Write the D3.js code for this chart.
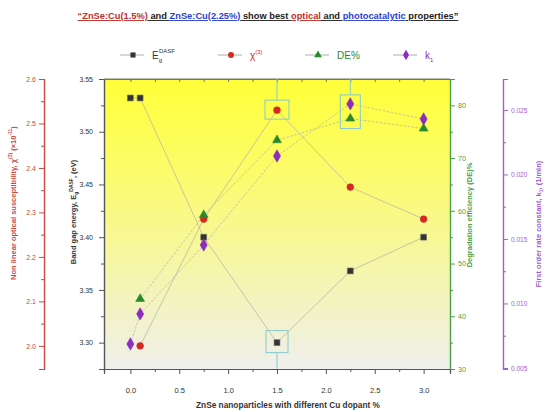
<!DOCTYPE html>
<html>
<head>
<meta charset="utf-8">
<script src="https://cdn.jsdelivr.net/npm/d3@7"></script>
<style>
  body { margin: 0; background: #fff; }
  svg { display: block; font-family: "Liberation Sans", Arial, sans-serif; }
</style>
</head>
<body>
<div id="chart"></div>
<script>
// dopant levels (Cu %) and the four measured series
const dopantAll = [0, 0.1, 0.75, 1.5, 2.25, 3.0];
const dopantDoped = [0.1, 0.75, 1.5, 2.25, 3.0];
const egValues = [3.532, 3.532, 3.40, 3.30, 3.368, 3.40];
const chiValues = [2.0, 2.285, 2.53, 2.357, 2.285];
const deValues = [43.3, 59.2, 73.4, 77.5, 75.6];
const kValues = [0.00686, 0.00919, 0.01453, 0.02143, 0.02547, 0.0243];

const xTicks = [0, 0.5, 1.0, 1.5, 2.0, 2.5, 3.0];
const egTicks = [3.30, 3.35, 3.40, 3.45, 3.50, 3.55];
const chiTicks = [2.0, 2.1, 2.2, 2.3, 2.4, 2.5, 2.6];
const deTicks = [30, 40, 50, 60, 70, 80];
const kTicks = [0.005, 0.010, 0.015, 0.020, 0.025];

const width = 545, height = 412;
const plot = { left: 104, right: 450, top: 79, bottom: 369 };

const cBlack = "#333", cRed = "#d42a22", cGreen = "#2a8a2a", cPurple = "#8e2cc0";
const aRed = "#c84a46", aGreen = "#4aa04a", aPurple = "#a060cc";

const svg = d3.select("#chart").append("svg")
  .attr("width", width).attr("height", height);

// gradient background of the plot
const grad = svg.append("defs").append("linearGradient")
  .attr("id", "bg").attr("x1", 0).attr("y1", 0).attr("x2", 0).attr("y2", 1);
grad.append("stop").attr("offset", "0%").attr("stop-color", "#ffff38");
grad.append("stop").attr("offset", "35%").attr("stop-color", "#fbfb70");
grad.append("stop").attr("offset", "100%").attr("stop-color", "#efefec");

svg.append("rect")
  .attr("x", plot.left).attr("y", plot.top)
  .attr("width", plot.right - plot.left).attr("height", plot.bottom - plot.top)
  .attr("fill", "url(#bg)");

// scales
const x = d3.scaleLinear().domain([-0.27, 3.27]).range([plot.left, plot.right]);
const yEg = d3.scaleLinear().domain([3.275, 3.55]).range([plot.bottom, plot.top]);
const yChi = d3.scaleLinear().domain([1.948, 2.6]).range([plot.bottom, plot.top]);
const yDe = d3.scaleLinear().domain([30, 85]).range([plot.bottom, plot.top]);
const yK = d3.scaleLinear().domain([0.00492, 0.0274]).range([plot.bottom, plot.top]);

// helper to style an axis group
const styleAxis = (g, color, fontSize) => {
  g.selectAll(".domain").attr("stroke", color).attr("stroke-width", 1.2);
  g.selectAll(".tick line").attr("stroke", color);
  g.selectAll(".tick text").attr("fill", color).attr("font-size", fontSize);
};

const minor = (ticks) => d3.range(ticks.length - 1).map(i => (ticks[i] + ticks[i + 1]) / 2);

// x axis (bottom) + top mirror
const xAxis = svg.append("g").attr("transform", `translate(0,${plot.bottom})`)
  .call(d3.axisBottom(x).tickValues(xTicks).tickFormat(d3.format(".1f")).tickSize(5).tickPadding(14));
styleAxis(xAxis, "#555", 7.5);
xAxis.selectAll(".tick text").attr("fill", "#333");
svg.append("g").attr("transform", `translate(0,${plot.bottom})`)
  .call(d3.axisBottom(x).tickValues(minor(xTicks)).tickFormat("").tickSize(3))
  .call(g => styleAxis(g, "#555", 7));
svg.append("g").attr("transform", `translate(0,${plot.top})`)
  .call(d3.axisBottom(x).tickValues(xTicks.concat(minor(xTicks))).tickFormat("").tickSize(3))
  .call(g => styleAxis(g, "#777", 7));

// inner left axis: band gap
const egAxis = svg.append("g").attr("transform", `translate(${plot.left},0)`)
  .call(d3.axisLeft(yEg).tickValues(egTicks).tickFormat(d3.format(".2f")).tickSize(5).tickPadding(6));
styleAxis(egAxis, "#555", 7);
egAxis.selectAll(".tick text").attr("fill", "#333");
svg.append("g").attr("transform", `translate(${plot.left},0)`)
  .call(d3.axisLeft(yEg).tickValues(minor(egTicks)).tickFormat("").tickSize(3))
  .call(g => styleAxis(g, "#555", 7));

// outer left axis: chi(3)
const chiAxis = svg.append("g").attr("transform", "translate(44,0)")
  .call(d3.axisLeft(yChi).tickValues(chiTicks).tickFormat(d3.format(".1f")).tickSize(5).tickPadding(3));
styleAxis(chiAxis, aRed, 7);
svg.append("g").attr("transform", "translate(44,0)")
  .call(d3.axisLeft(yChi).tickValues(minor(chiTicks)).tickFormat("").tickSize(3))
  .call(g => styleAxis(g, aRed, 7));

// right axis: DE%
const deAxis = svg.append("g").attr("transform", `translate(${plot.right},0)`)
  .call(d3.axisRight(yDe).tickValues(deTicks).tickSize(5).tickPadding(3));
styleAxis(deAxis, aGreen, 7);
svg.append("g").attr("transform", `translate(${plot.right},0)`)
  .call(d3.axisRight(yDe).tickValues(minor(deTicks)).tickFormat("").tickSize(3))
  .call(g => styleAxis(g, aGreen, 7));

// outer right axis: k1
const kAxis = svg.append("g").attr("transform", "translate(503,0)")
  .call(d3.axisRight(yK).tickValues(kTicks).tickFormat(d3.format(".3f")).tickSize(5).tickPadding(3));
styleAxis(kAxis, aPurple, 6.5);
svg.append("g").attr("transform", "translate(503,0)")
  .call(d3.axisRight(yK).tickValues(minor(kTicks)).tickFormat("").tickSize(3))
  .call(g => styleAxis(g, aPurple, 7));

// top frame line
svg.append("line")
  .attr("x1", plot.left).attr("x2", plot.right)
  .attr("y1", plot.top).attr("y2", plot.top)
  .attr("stroke", "#777").attr("stroke-width", 1);

// series lines
const series = [
  { xs: dopantAll, ys: egValues, scale: yEg, color: cBlack, dash: null, shape: d3.symbolSquare, size: 34 },
  { xs: dopantDoped, ys: chiValues, scale: yChi, color: cRed, dash: null, shape: d3.symbolCircle, size: 36 },
  { xs: dopantDoped, ys: deValues, scale: yDe, color: cGreen, dash: "2.5,1.5", shape: d3.symbolTriangle, size: 34 },
  { xs: dopantAll, ys: kValues, scale: yK, color: cPurple, dash: "2.5,1.5", shape: d3.symbolDiamond, size: 44 }
];

series.forEach(s => {
  const pts = s.xs.map((d, i) => [x(d), s.scale(s.ys[i])]);
  svg.append("path")
    .attr("d", d3.line()(pts))
    .attr("fill", "none")
    .attr("stroke", "#b0b0a6")
    .attr("stroke-width", 0.7)
    .attr("stroke-dasharray", s.dash);
});

// highlight boxes (light blue) with connector lines
const boxColor = "#86c8d4";
const boxes = [
  { cx: x(1.5), y1: yChi(2.53) - 10, y2: yChi(2.53) + 9, hw: 12, lineTo: plot.top },
  { cx: x(2.25), y1: yK(0.02547) - 9, y2: yDe(77.5) + 10, hw: 10, lineTo: plot.top },
  { cx: x(1.5), y1: yEg(3.30) - 12, y2: yEg(3.30) + 10, hw: 11, lineTo: plot.bottom }
];
boxes.forEach(b => {
  svg.append("rect")
    .attr("x", b.cx - b.hw).attr("y", b.y1)
    .attr("width", b.hw * 2).attr("height", b.y2 - b.y1)
    .attr("fill", "none").attr("stroke", boxColor).attr("stroke-width", 1);
  const from = b.lineTo === plot.top ? b.y1 : b.y2;
  svg.append("line")
    .attr("x1", b.cx).attr("x2", b.cx)
    .attr("y1", from).attr("y2", b.lineTo)
    .attr("stroke", boxColor).attr("stroke-width", 1);
});

// markers
series.forEach(s => {
  svg.append("g").selectAll("path")
    .data(s.xs.map((d, i) => [d, s.ys[i]]))
    .join("path")
    .attr("transform", d => `translate(${x(d[0])},${s.scale(d[1])})`)
    .attr("d", d3.symbol().type(s.shape).size(s.size))
    .attr("fill", s.color)
    .attr("stroke", s.shape === d3.symbolSquare ? "#666" : s.color)
    .attr("stroke-width", 0.6);
});

// title
const title = svg.append("text")
  .attr("x", 268).attr("y", 19)
  .attr("text-anchor", "middle")
  .attr("font-size", 9.3).attr("font-weight", "bold");
const titleParts = [
  ["\u201CZnSe:Cu(1.5%)", "#c0302a"], [" and ", "#222"], ["ZnSe:Cu(2.25%)", "#2b3fd0"],
  [" show best ", "#222"], ["optical", "#c0302a"], [" and ", "#222"],
  ["photocatalytic", "#2b3fd0"], [" properties\u201D", "#222"]
];
titleParts.forEach(p => {
  title.append("tspan").text(p[0]).attr("fill", p[1])
    .style("text-decoration", "underline");
});

// legend
const legendY = 55;
const legendItems = [
  { x: 120, color: cBlack, shape: d3.symbolSquare, size: 26, label: "E", sub: "g", sup: "DASF", textColor: "#333" },
  { x: 218, color: cRed, shape: d3.symbolCircle, size: 28, label: "\u03C7", sup: "(3)", textColor: cRed },
  { x: 305, color: cGreen, shape: d3.symbolTriangle, size: 26, label: "DE%", textColor: cGreen },
  { x: 393, color: cPurple, shape: d3.symbolDiamond, size: 32, label: "k", sub: "1", textColor: cPurple }
];
legendItems.forEach(it => {
  const g = svg.append("g").attr("transform", `translate(${it.x},${legendY})`);
  g.append("line").attr("x1", 0).attr("x2", 24).attr("y1", 0).attr("y2", 0)
    .attr("stroke", "#999").attr("stroke-width", 0.8);
  g.append("path").attr("transform", "translate(13,0)")
    .attr("d", d3.symbol().type(it.shape).size(it.size)).attr("fill", it.color);
  const t = g.append("text").attr("x", 32).attr("y", 3.5)
    .attr("font-size", 10).attr("fill", it.textColor);
  t.append("tspan").text(it.label);
  if (it.sub) t.append("tspan").text(it.sub).attr("font-size", 6).attr("dy", 3);
  if (it.sup) t.append("tspan").text(it.sup).attr("font-size", 6)
    .attr("dx", it.sub ? -3 : 0).attr("dy", it.sub ? -9 : -5);
});

// axis titles
const axisTitle = (tx, ty, rot, color, size) => svg.append("text")
  .attr("transform", `translate(${tx},${ty}) rotate(${rot})`)
  .attr("text-anchor", "middle").attr("font-size", size)
  .attr("font-weight", "bold").attr("fill", color);

const xt = axisTitle(288, 408, 0, "#333", 8.3);
xt.text("ZnSe nanoparticles with different Cu dopant %");

const egT = axisTitle(76, 212, -90, "#333", 7.5);
egT.append("tspan").text("Band gap energy, E");
egT.append("tspan").text("g").attr("font-size", 5).attr("dy", 2);
egT.append("tspan").text("DASF").attr("font-size", 5).attr("dy", -5);
egT.append("tspan").text(", (eV)").attr("dy", 3);

const chiT = axisTitle(16, 203, -90, aRed, 7.5);
chiT.append("tspan").text("Non linear optical susceptibility, \u03C7");
chiT.append("tspan").text("(3)").attr("font-size", 5).attr("dy", -4);
chiT.append("tspan").text(" (\u00D710").attr("dy", 4);
chiT.append("tspan").text("-11").attr("font-size", 5).attr("dy", -4);
chiT.append("tspan").text(")").attr("dy", 4);

axisTitle(472, 215, -90, aGreen, 7.5).text("Degradation efficiency (DE)%");

const kT = axisTitle(541, 224, -90, aPurple, 7.5);
kT.append("tspan").text("First order rate constant, k");
kT.append("tspan").text("1").attr("font-size", 5).attr("dy", 2);
kT.append("tspan").text(", (1/min)").attr("dy", -2);
</script>
</body>
</html>
